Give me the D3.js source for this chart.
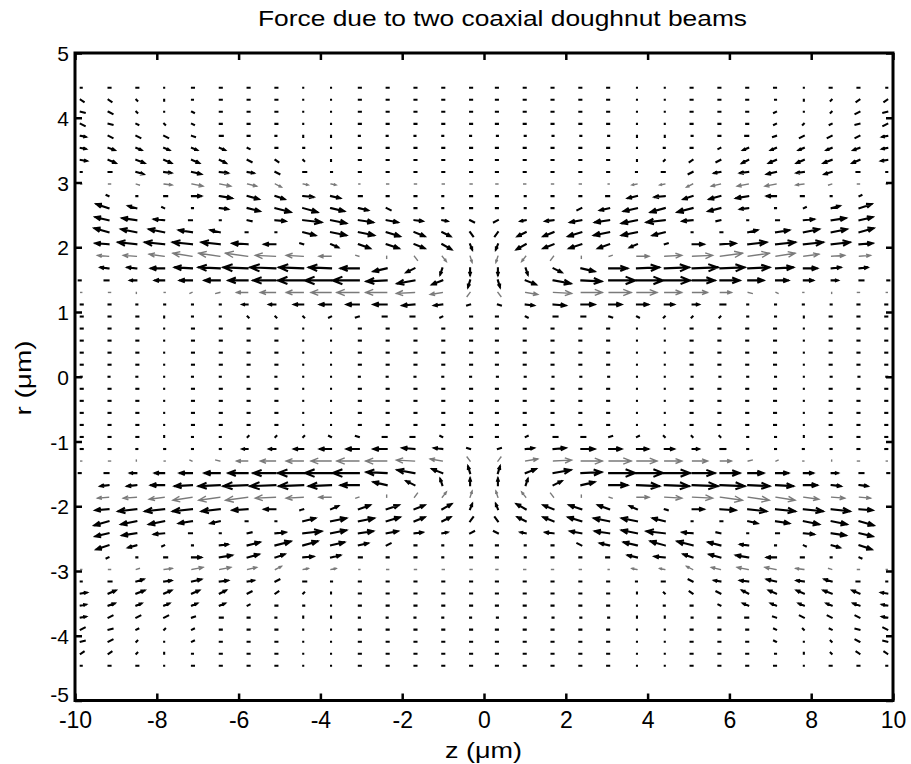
<!DOCTYPE html>
<html lang="en">
<head>
<meta charset="UTF-8">
<title>Force due to two coaxial doughnut beams</title>
<script src="https://d3js.org/d3.v7.min.js"></script>
<style>
  body { margin: 0; background: #fff; }
  svg { display: block; }
  text { font-family: "Liberation Sans", Arial, sans-serif; fill: #000; }
  .arrow { fill: none; stroke: #000; stroke-width: 2.1; stroke-linecap: square; stroke-linejoin: miter; }
  .arrow.faded { stroke: #7a7a7a; stroke-width: 1.4; }
  .tick line { stroke-width: 2.5; }
</style>
</head>
<body>
<svg></svg>
<script>
const width = 911, height = 764;

// grid of the quiver plot (left half, z < 0; upper half, r >= 0)
const zGrid = [-9.86, -9.18, -8.50, -7.82, -7.14, -6.46, -5.78, -5.10, -4.42, -3.74, -3.06, -2.38, -1.70, -1.02, -0.34];
const rGrid = [4.464, 4.278, 4.092, 3.906, 3.72, 3.534, 3.348, 3.162, 2.976, 2.79, 2.604, 2.418, 2.232, 2.046,
               1.86, 1.674, 1.488, 1.302, 1.116, 0.93, 0.744, 0.558, 0.372, 0.186, 0];

// axial force component (arbitrary units), one row per r above
const forceZ = [
  [1, 2, 2, 0, 2, 2, 2, 2, 0, 0, 2, 2, 2, 2, 2],
  [3, 3, 1, 0, 1, 2, 2, 2, 0, 0, 2, 2, 2, 2, 2],
  [4, 4, 1, 0, 2, 2, 2, 2, 0, 0, 2, 2, 2, 2, 2],
  [4, 4, 2, 1, 2, 2, 2, 2, 0, 0, 2, 2, 2, 2, 2],
  [5, 4, 4, 4, 3, 3, 2, 1, 0, 0, 1, 1, 1, 1, 1],
  [5, 6, 5, 5, 5, 5, 2, 2, 1, 0, 2, 2, 2, 2, 2],
  [6, 7, 8, 7, 7, 6, 4, 3, 1, 0, 2, 2, 2, 2, 2],
  [1, 3, 7, 7, 9, 8, 6, 4, 3, 1, 2, 2, 2, 2, 2],
  [1, 2, 3, 8, 11, 11, 9, 6, 5, 5, 1, 2, 2, 2, 2],
  [null, -2, 1, 3, 9, 12, 11, 9, 10, 9, 3, 2, 2, 1, 2],
  [null, -12, -8, -2, 1, 8, 12, 15, 14, 13, 9, 4, 2, 1, 2],
  [null, -13, -14, -10, -3, 1, 4, 10, 18, 15, 14, 11, 8, 5, 4],
  [null, -14, -15, -15, -13, -9, -2, 1, 12, 15, 15, 13, 10, 8, 3],
  [null, -13, -18, -19, -19, -18, -15, -11, -3, 7, 11, 12, 10, 9, 2],
  [null, -11, -13, -15, -19, -21, -22, -20, -17, -12, -3, 0, 3, 4, 2],
  [null, -8, -9, -13, -17, -21, -24, -25, -24, -22, -18, -13, -8, -2, 0],
  [-2, -4, -6, -9, -12, -15, -19, -22, -25, -26, -26, -20, -17, -10, -2],
  [1, 2, 0, 1, -2, -4, -11, -15, -17, -20, -22, -21, -18, -12, -3],
  [2, 2, 1, 1, 1, 1, -5, -6, -9, -11, -12, -13, -12, -8, -3],
  [2, 2, 2, 0, 1, 1, 1, 1, 1, -2, -3, -4, -4, -2, 2],
  [2, 2, 2, 0, 2, 2, 2, 2, 0, 0, 2, 2, 2, 2, 2],
  [2, 2, 2, 0, 2, 2, 2, 2, 0, 0, 2, 2, 2, 2, 2],
  [2, 2, 2, 0, 2, 2, 2, 2, 0, 0, 2, 2, 2, 2, 2],
  [2, 2, 2, 0, 2, 2, 2, 2, 0, 0, 2, 2, 2, 2, 2],
  [1, 1, 1, 0, 1, 1, 1, 1, 0, 0, 1, 1, 1, 1, 1]
];

// radial force component (same units)
const forceR = [
  [0, 0, 0, 0, 0, 0, 0, 0, 0, 0, 0, 0, 0, 0, 0],
  [-1.3, -1.3, -0.6, -0.6, 0, 0, 0, 0, 0, 0, 0, 0, 0, 0, 0],
  [-0.6, -1.3, -0.6, 0, -0.6, 0, 0, 0, 0, 0, 0, 0, 0, 0, 0],
  [-1.3, -0.6, -0.6, -0.6, -0.6, 0, 0, 0, 0, 0, 0, 0, 0, 0, 0],
  [-0.6, -1.3, -1.3, -1.3, -0.6, 0, 0, 0, -0.6, -0.6, 0, 0, 0, 0, 0],
  [-0.6, -1.3, -1.3, -1.3, -1.3, -1.3, -0.6, 0, 0, 0, 0, 0, 0, 0, 0],
  [-0.6, -1.9, -1.9, -1.9, -1.9, -1.9, -1.3, -1.3, -0.6, -0.6, 0, 0, 0, 0, 0],
  [0, 0, -1.3, -0.6, -1.3, -0.6, -0.6, -1.3, 0, 0, 0, 0, 0, 0, 0],
  [0, 0, -0.6, -0.6, -1.3, -1.3, -1.3, -1.9, -0.6, -0.6, 0, 0, 0, 0, 0],
  [null, 0.6, 0, 0, 0, -1.3, -1.9, -1.9, -0.6, -1.3, 0, 0, 0, 0, 0],
  [null, 2.5, 1.3, 0.6, 0, -0.6, -1.9, -2.5, -2.5, -1.9, -1.3, -1.3, 0, 0, 0],
  [null, 1.9, 1.3, 0.6, 0, 0, -0.6, -0.6, -1.3, -1.9, -1.3, -1.3, -0.6, -0.6, -1.3],
  [null, 2.5, 1.9, 1.9, 1.3, 1.3, 0, 0, -1.9, -1.9, -1.9, -2.5, -2.5, -2.5, -2.5],
  [null, 0.6, 1.3, 1.3, 1.3, 1.3, 0.6, 0, 0.6, -1.9, -2.5, -2.5, -2.5, -3.2, -3.2],
  [null, 0.6, 0.6, 1.3, 1.9, 1.9, 1.9, 0.6, 0.6, 0, 0.6, -1.3, -2.5, -3.2, -3.8],
  [null, 0.6, 0.6, 0, 0.6, 0.6, 0.6, 0.6, 0.6, 0.6, 0, -1.9, -2.5, -3.8, -4.1],
  [0, 0, 0, 0, 0, 0, 0, 0, 0, 0, 0, -0.6, -1.9, -2.5, -4.1],
  [0, 0, -0.6, 0, -0.6, -0.6, 0, 0, 0, 0, 0, 0, -0.6, -1.3, -2.5],
  [0, 0, 0, 0, 0, 0, 0, 0, 0, 0, 0, 0, -0.6, -0.6, -0.6],
  [0, 0, 0, -0.6, 0, 0, -0.6, -0.6, -0.6, -0.6, -0.6, 0, 0, -0.6, 0],
  [0, 0, 0, 0, 0, 0, 0, 0, 0, 0, 0, 0, 0, 0, 0],
  [0, 0, 0, 0, 0, 0, 0, 0, 0, 0, 0, 0, 0, 0, 0],
  [0, 0, 0, 0, 0, 0, 0, 0, 0, 0, 0, 0, 0, 0, 0],
  [0, 0, 0, 0, 0, 0, 0, 0, 0, 0, 0, 0, 0, 0, 0],
  [0, 0, 0, 0, 0, 0, 0, 0, 0, 0, 0, 0, 0, 0, 0]
];

const xTicks = [-10, -8, -6, -4, -2, 0, 2, 4, 6, 8, 10];
const yTicks = [-5, -4, -3, -2, -1, 0, 1, 2, 3, 4, 5];

// rows that come out light grey in the original scan
const fadedRows = [8, 14, 17];

const plotLeft = 75, plotRight = 893, plotTop = 53, plotBottom = 700.5;

const svg = d3.select("svg")
    .attr("width", width)
    .attr("height", height);

const x = d3.scaleLinear().domain([-10, 10]).range([plotLeft, plotRight]);
const y = d3.scaleLinear().domain([-5, 5]).range([plotBottom, plotTop]);

const arrowScale = 20 / 818; // um of arrow per force unit

svg.append("clipPath")
    .attr("id", "plotClip")
    .append("rect")
    .attr("x", plotLeft).attr("y", plotTop)
    .attr("width", plotRight - plotLeft).attr("height", plotBottom - plotTop);

// the plotted field is mirror symmetric in z and in r, so the quadrant read above
// is placed in all four quadrants
const arrows = [];
rGrid.forEach((r, j) => {
    zGrid.forEach((z, i) => {
        const fz = forceZ[j][i], fr = forceR[j][i];
        if (fz === null) return;
        const flips = r === 0 ? [[1, 1], [-1, 1]] : [[1, 1], [-1, 1], [1, -1], [-1, -1]];
        flips.forEach(([sz, sr]) => {
            arrows.push({ z: sz * z, r: sr * r, fz: sz * fz, fr: sr * fr, faded: fadedRows.includes(j) });
        });
    });
});

function arrowPath(d) {
    const x0 = x(d.z), y0 = y(d.r);
    const x1 = x(d.z + d.fz * arrowScale), y1 = y(d.r + d.fr * arrowScale);
    const dx = x1 - x0, dy = y1 - y0;
    const len = Math.hypot(dx, dy);
    let p = `M${x0},${y0}L${x1},${y1}`;
    if (len > 5) {
        const bx = x1 - 0.33 * dx, by = y1 - 0.33 * dy;
        const nx = -dy * 0.13, ny = dx * 0.13;
        p += `M${bx + nx},${by + ny}L${x1},${y1}L${bx - nx},${by - ny}`;
    }
    return p;
}

svg.append("g")
    .attr("clip-path", "url(#plotClip)")
    .selectAll("path")
    .data(arrows)
    .enter().append("path")
    .attr("class", d => d.faded ? "arrow faded" : "arrow")
    .attr("d", arrowPath);

// axes, ticks pointing inwards on all four sides
const fmt = d => String(d);

const gx = svg.append("g")
    .attr("transform", `translate(0,${plotBottom})`)
    .call(d3.axisBottom(x).tickValues(xTicks).tickSize(-7).tickPadding(11).tickFormat(fmt));
gx.selectAll("text").style("font-size", "23px");

svg.append("g")
    .attr("transform", `translate(0,${plotTop})`)
    .call(d3.axisTop(x).tickValues(xTicks).tickSize(-7).tickFormat(""));

const gy = svg.append("g")
    .attr("transform", `translate(${plotLeft},0)`)
    .call(d3.axisLeft(y).tickValues(yTicks).tickSize(-7).tickPadding(6).tickFormat(fmt));
gy.selectAll("text")
    .style("font-size", "21px")
    .attr("dy", d => d === -5 ? "0.05em" : "0.36em");

svg.append("g")
    .attr("transform", `translate(${plotRight},0)`)
    .call(d3.axisRight(y).tickValues(yTicks).tickSize(-7).tickFormat(""));

svg.selectAll(".domain").remove();

svg.append("rect")
    .attr("x", plotLeft).attr("y", plotTop)
    .attr("width", plotRight - plotLeft).attr("height", plotBottom - plotTop)
    .attr("fill", "none")
    .attr("stroke", "#000")
    .attr("stroke-width", 3);

svg.append("text")
    .attr("x", 258).attr("y", 26)
    .attr("textLength", 489)
    .attr("lengthAdjust", "spacingAndGlyphs")
    .style("font-size", "22px")
    .text("Force due to two coaxial doughnut beams");

svg.append("text")
    .attr("x", 445).attr("y", 758)
    .attr("textLength", 77)
    .attr("lengthAdjust", "spacingAndGlyphs")
    .style("font-size", "22px")
    .text("z (\u03bcm)");

svg.append("text")
    .attr("transform", "translate(31,378) rotate(-90)")
    .attr("text-anchor", "middle")
    .attr("textLength", 75)
    .attr("lengthAdjust", "spacingAndGlyphs")
    .style("font-size", "22px")
    .text("r (\u03bcm)");
</script>
</body>
</html>
